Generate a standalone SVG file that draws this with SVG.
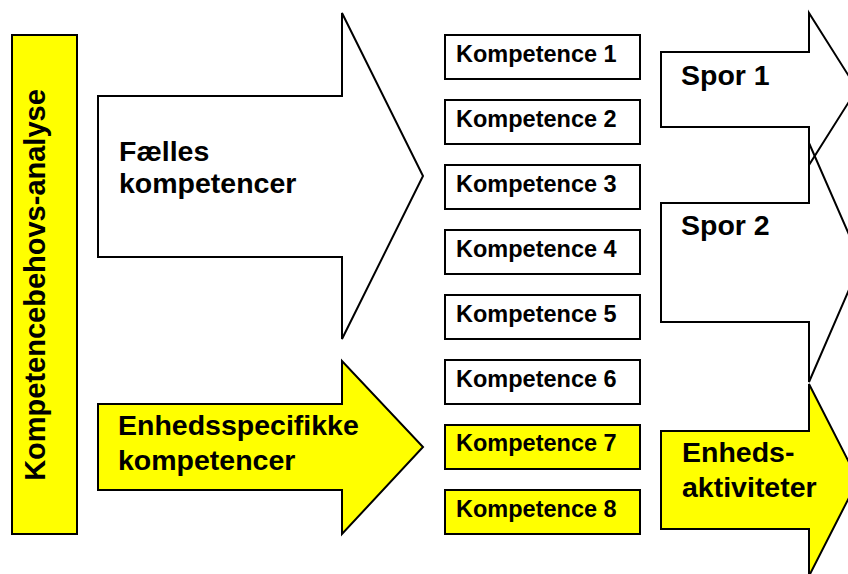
<svg xmlns="http://www.w3.org/2000/svg" width="848" height="574" viewBox="0 0 848 574">
<style>
.w{fill:#ffffff;stroke:#000000;stroke-width:2;stroke-linejoin:miter}
.y{fill:#ffff00;stroke:#000000;stroke-width:2;stroke-linejoin:miter}
.big{font-family:"Liberation Sans",Arial,sans-serif;font-weight:bold;font-size:28.5px;fill:#000}
.box{font-family:"Liberation Sans",Arial,sans-serif;font-weight:bold;font-size:23.5px;fill:#000}
.vert{font-family:"Liberation Sans",Arial,sans-serif;font-weight:bold;font-size:29px;fill:#000}
</style>
<rect width="848" height="574" fill="#ffffff"/>
<g id="analyse">
<rect class="y" x="12" y="35" width="65" height="499"/>
<text class="vert" transform="translate(45,285) rotate(-90)" text-anchor="middle">Kompetencebehovs-analyse</text>
</g>
<g id="faelles">
<polygon class="w" points="98,96 342,96 342,13 423,176 342,339 342,257 98,257"/>
<text class="big" x="119" y="161">Fælles</text>
<text class="big" x="119" y="193">kompetencer</text>
</g>
<g id="enhedsspecifikke">
<polygon class="y" points="98,404 342,404 342,361 423,447 342,534 342,490 98,490"/>
<text class="big" x="118" y="435">Enhedsspecifikke</text>
<text class="big" x="118" y="470">kompetencer</text>
</g>
<g id="komp1"><rect class="w" x="445" y="35" width="195" height="44"/><text class="box" x="456" y="62">Kompetence 1</text></g>
<g id="komp2"><rect class="w" x="445" y="100" width="195" height="44"/><text class="box" x="456" y="127">Kompetence 2</text></g>
<g id="komp3"><rect class="w" x="445" y="165" width="195" height="44"/><text class="box" x="456" y="192">Kompetence 3</text></g>
<g id="komp4"><rect class="w" x="445" y="230" width="195" height="44"/><text class="box" x="456" y="257">Kompetence 4</text></g>
<g id="komp5"><rect class="w" x="445" y="295" width="195" height="44"/><text class="box" x="456" y="322">Kompetence 5</text></g>
<g id="komp6"><rect class="w" x="445" y="360" width="195" height="44"/><text class="box" x="456" y="387">Kompetence 6</text></g>
<g id="komp7"><rect class="y" x="445" y="425" width="195" height="44"/><text class="box" x="456" y="451">Kompetence 7</text></g>
<g id="komp8"><rect class="y" x="445" y="490" width="195" height="44"/><text class="box" x="456" y="517">Kompetence 8</text></g>
<g id="spor1">
<polygon class="w" points="661,52 809,52 809,13 857,89 809,165 809,127 661,127"/>
<text class="big" x="681" y="85">Spor 1</text>
</g>
<g id="spor2">
<polygon class="w" fill-opacity="0" points="661,203 809,203 809,143 861,262 809,382 809,322 661,322"/>
<text class="big" x="681" y="235">Spor 2</text>
</g>
<g id="enhedsaktiviteter">
<polygon class="y" points="661,431 809,431 809,384 858,480 809,576 809,529 661,529"/>
<text class="big" x="682" y="462">Enheds-</text>
<text class="big" x="682" y="497">aktiviteter</text>
</g>
<g id="connectors"></g>
</svg>
